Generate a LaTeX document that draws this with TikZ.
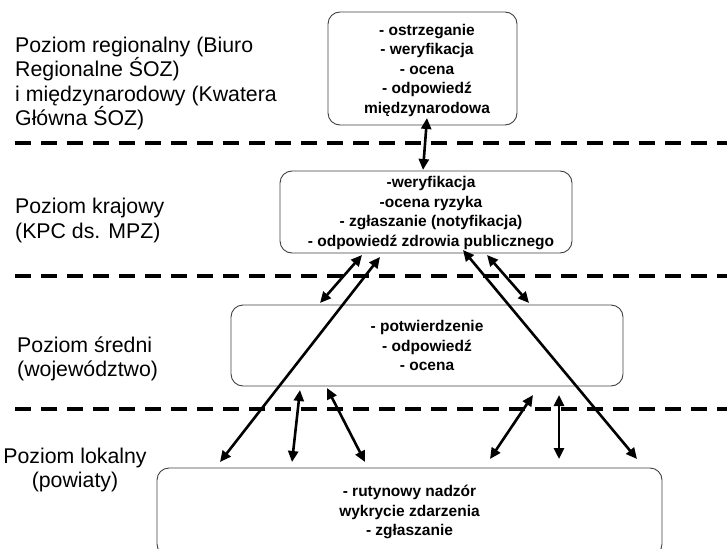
\documentclass[tikz,border=0pt]{standalone}
\usepackage{fontspec}
\setmainfont{Liberation Sans}
\usetikzlibrary{arrows.meta}
\begin{document}
\begin{tikzpicture}[x=1pt,y=-1pt,
  box/.style={draw=black!75, line width=0.9pt, rounded corners=12pt, align=center,
    font=\fontsize{15.5}{19.5}\selectfont\bfseries, inner sep=0pt},
  lvl/.style={align=left, font=\fontsize{21.3}{24.5}\selectfont, inner sep=0pt, anchor=west},
  sepline/.style={line width=4pt, dash pattern=on 16pt off 10pt},
  link/.style={line width=2.6pt, {Triangle[length=11pt,width=10pt]}-{Triangle[length=11pt,width=10pt]}}]
\useasboundingbox (0,0) rectangle (727,548);

% separators
\draw[sepline] (15,143) -- (727,143);
\draw[sepline] (15,276) -- (727,276);
\draw[sepline] (15,409) -- (727,409);

% level labels
\node[lvl] (l1) at (15,83.5) {Poziom regionalny (Biuro\\Regionalne ŚOZ)\\i międzynarodowy (Kwatera\\Główna ŚOZ)};
\node[lvl] (l2) at (15,220.5) {Poziom krajowy\\(KPC ds. MPZ)};
\node[lvl] (l3) at (17,359) {Poziom średni\\(województwo)};
\node[align=center, font=\fontsize{21.3}{24.5}\selectfont, inner sep=0pt] (l4) at (75,470) {Poziom lokalny\\(powiaty)};

% boxes
\node[box, minimum width=189pt, minimum height=113pt] (b1) at (422.5,68.5) {};
\node[box, draw=none, anchor=center] (b1t) at (427,70)
  {- ostrzeganie\\- weryfikacja\\- ocena\\- odpowiedź\\międzynarodowa};
\node[box, minimum width=292pt, minimum height=82pt] (b2) at (426,212) {};
\node[box, draw=none] (b2t) at (431,213)
  {-weryfikacja\\-ocena ryzyka\\- zgłaszanie (notyfikacja)\\- odpowiedź zdrowia publicznego};
\node[box, minimum width=392pt, minimum height=81pt] (b3) at (427,345.5)
  {- potwierdzenie\\- odpowiedź\\- ocena};
\node[box, minimum width=505pt, minimum height=88pt] (b4) at (409.5,512)
  {- rutynowy nadzór\\wykrycie zdarzenia\\- zgłaszanie};

% connector end points
\coordinate (t1) at (427,118);  \coordinate (t2) at (423,170);
\coordinate (a1) at (362,255);  \coordinate (a2) at (320,303);
\coordinate (bb1) at (380,257); \coordinate (bb2) at (220,462);
\coordinate (c1) at (463,250);  \coordinate (c2) at (637,459);
\coordinate (d1) at (487,255);  \coordinate (d2) at (529,303);
\coordinate (e1) at (300,390);  \coordinate (e2) at (292,462);
\coordinate (f1) at (327,388);  \coordinate (f2) at (365,462);
\coordinate (g1) at (533,395);  \coordinate (g2) at (490,459);
\coordinate (h1) at (559,395);  \coordinate (h2) at (559,459);

% connectors
\draw[link] (t1) -- (t2);
\draw[link] (a1) -- (a2);
\draw[link] (bb1) -- (bb2);
\draw[link] (c1) -- (c2);
\draw[link] (d1) -- (d2);
\draw[link] (e1) -- (e2);
\draw[link] (f1) -- (f2);
\draw[link] (g1) -- (g2);
\draw[link] (h1) -- (h2);
\end{tikzpicture}
\end{document}
